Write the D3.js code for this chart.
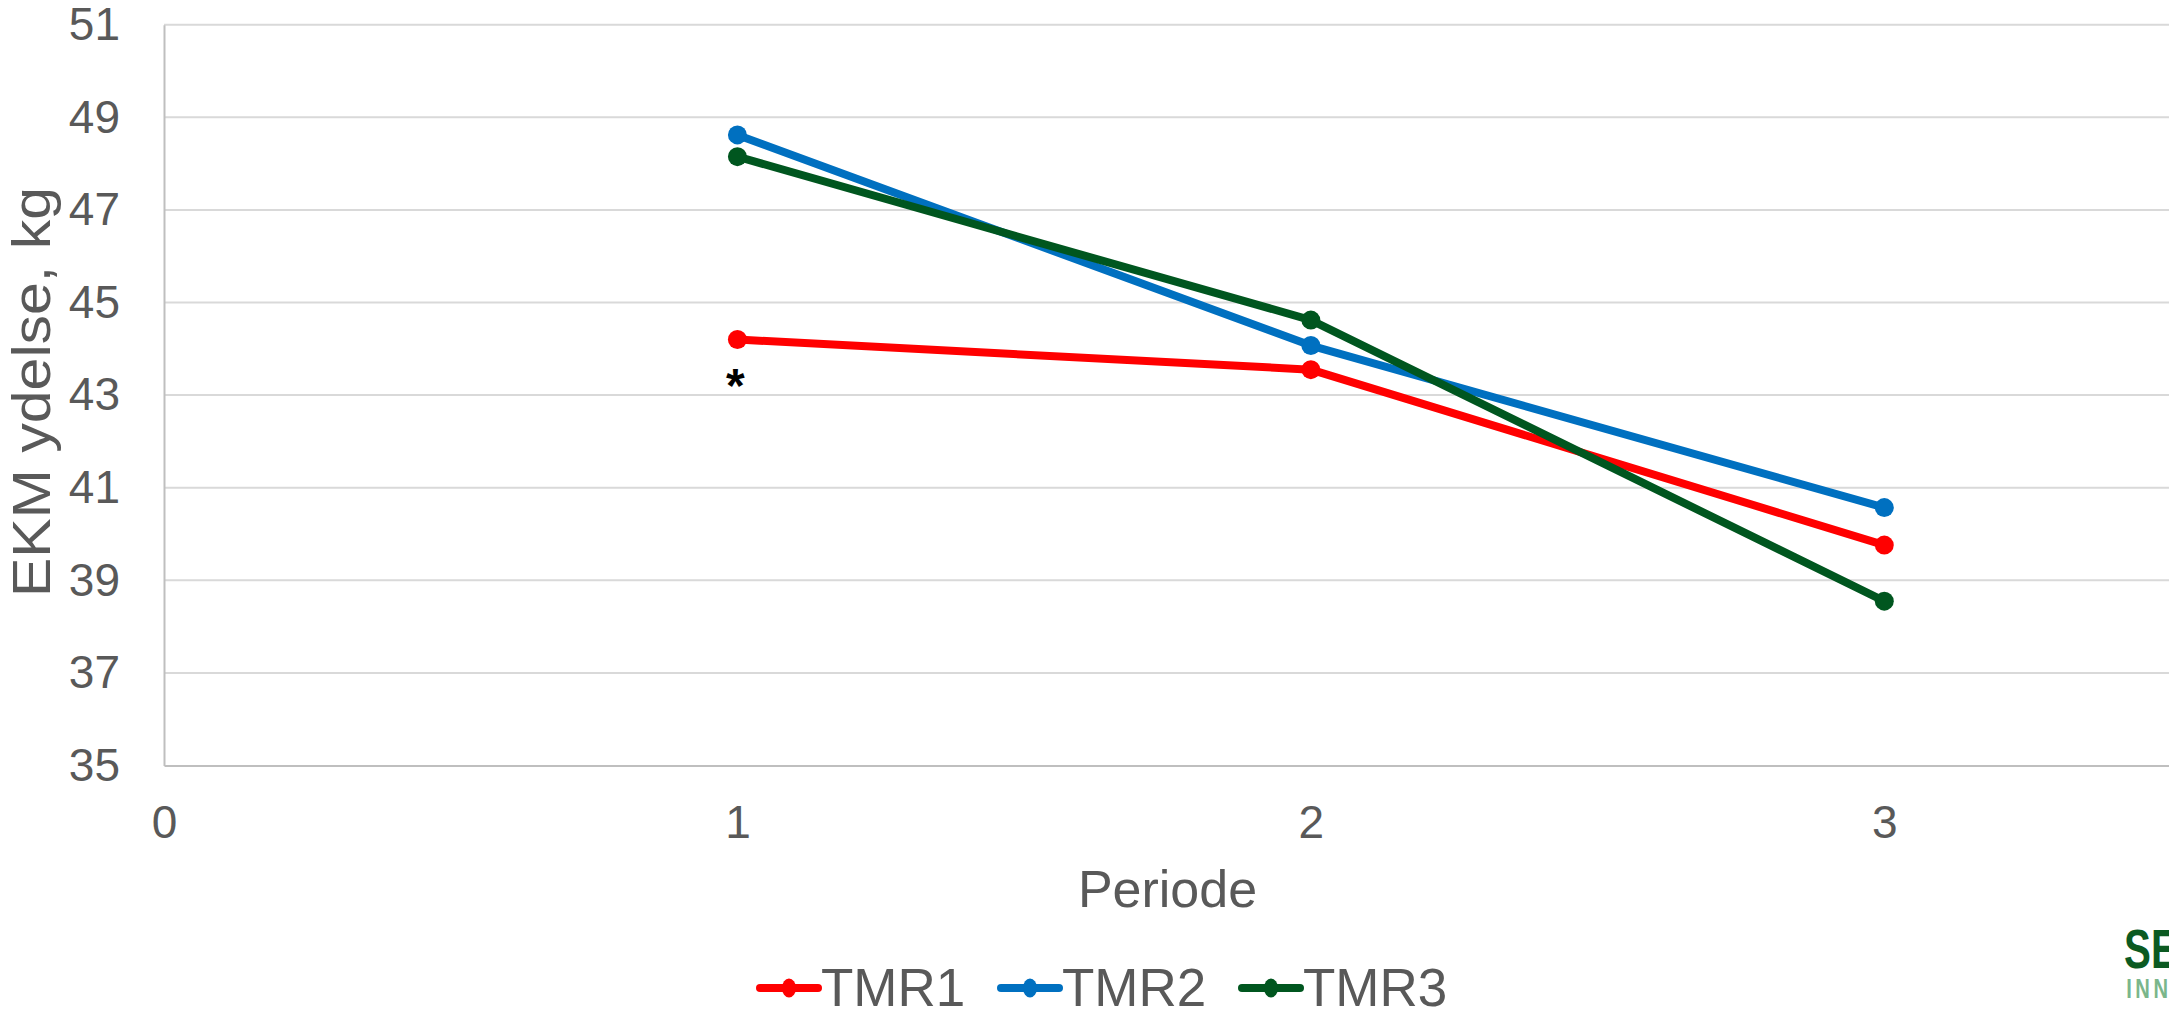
<!DOCTYPE html>
<html>
<head>
<meta charset="utf-8">
<script src="https://cdn.jsdelivr.net/npm/d3@7"></script>
<style>
  body { margin: 0; background: #fff; }
  svg { display: block; font-family: Arial, "Liberation Sans", sans-serif; }
</style>
</head>
<body>
<svg id="chart"></svg>
<script>
// EKM yield per period for the three TMR rations
const periods = [1, 2, 3];
const seriesNames = ["TMR1", "TMR2", "TMR3"];
const tmr1 = [44.2, 43.55, 39.76];
const tmr2 = [48.62, 44.07, 40.57];
const tmr3 = [48.15, 44.62, 38.55];
const yTicks = [35, 37, 39, 41, 43, 45, 47, 49, 51];
const xTicks = [0, 1, 2, 3];
const colours = ["#ff0000", "#0070c0", "#00561f"];
// significance mark under TMR1 in period 1
const notes = [{series: 0, period: 1, text: "*"}];

const W = 2169, H = 1013;
const plot = {left: 164, right: 2171, top: 24.7, bottom: 765.5};
const textGrey = "#595959";

const svg = d3.select("#chart")
    .attr("width", W)
    .attr("height", H);

const x = d3.scaleLinear()
    .domain([0, 3.5])
    .range([plot.left, plot.right]);

const y = d3.scaleLinear()
    .domain([35, 51])
    .range([plot.bottom, plot.top]);

const series = [tmr1, tmr2, tmr3].map((vals, i) => ({
    name: seriesNames[i],
    colour: colours[i],
    points: periods.map((p, j) => ({period: p, value: vals[j]}))
}));

// horizontal gridlines
svg.append("g")
  .selectAll("line")
  .data(yTicks.slice(1))
  .enter()
  .append("line")
    .attr("x1", plot.left)
    .attr("x2", plot.right)
    .attr("y1", d => y(d))
    .attr("y2", d => y(d))
    .attr("stroke", "#d9d9d9")
    .attr("stroke-width", 2);

// y axis
const yAxis = svg.append("g")
    .attr("transform", "translate(" + plot.left + ",0)")
    .call(d3.axisLeft(y).tickValues(yTicks).tickSize(0).tickPadding(44));

// x axis
const xAxis = svg.append("g")
    .attr("transform", "translate(0," + plot.bottom + ")")
    .call(d3.axisBottom(x).tickValues(xTicks).tickSize(0).tickPadding(40).tickFormat(d3.format("d")));

[yAxis, xAxis].forEach(a => {
    a.select(".domain").attr("stroke", "#bfbfbf").attr("stroke-width", 2);
    a.selectAll("text")
        .attr("fill", textGrey)
        .style("font-size", "46px")
        .style("font-family", "Arial, 'Liberation Sans', sans-serif");
});

// axis titles
svg.append("text")
    .attr("x", (plot.left + plot.right) / 2)
    .attr("y", 907)
    .attr("text-anchor", "middle")
    .attr("fill", textGrey)
    .style("font-size", "52px")
    .text("Periode");

svg.append("text")
    .attr("transform", "translate(50,392) rotate(-90)")
    .attr("text-anchor", "middle")
    .attr("fill", textGrey)
    .attr("textLength", 410)
    .attr("lengthAdjust", "spacingAndGlyphs")
    .style("font-size", "54px")
    .text("EKM ydelse, kg");

// lines
const line = d3.line()
    .x(d => x(d.period))
    .y(d => y(d.value));

svg.append("g")
  .selectAll("path")
  .data(series)
  .enter()
  .append("path")
    .attr("d", d => line(d.points))
    .attr("fill", "none")
    .attr("stroke", d => d.colour)
    .attr("stroke-width", 8)
    .attr("stroke-linejoin", "round")
    .attr("stroke-linecap", "round");

// markers
series.forEach(s => {
    svg.append("g")
      .selectAll("circle")
      .data(s.points)
      .enter()
      .append("circle")
        .attr("cx", d => x(d.period))
        .attr("cy", d => y(d.value))
        .attr("r", 9.5)
        .attr("fill", s.colour);
});

// notes
svg.append("g")
  .selectAll("text")
  .data(notes)
  .enter()
  .append("text")
    .attr("x", d => x(d.period) - 2)
    .attr("y", d => y(series[d.series].points.find(p => p.period === d.period).value) + 62)
    .attr("text-anchor", "middle")
    .attr("fill", "#000")
    .style("font-size", "48px")
    .style("font-weight", "bold")
    .text(d => d.text);

// legend
const legend = svg.append("g")
  .selectAll("g")
  .data(series)
  .enter()
  .append("g")
    .attr("transform", (d, i) => "translate(" + (760 + i * 241) + ",988)");

legend.append("line")
    .attr("x1", 0)
    .attr("x2", 58)
    .attr("stroke", d => d.colour)
    .attr("stroke-width", 8)
    .attr("stroke-linecap", "round");

legend.append("ellipse")
    .attr("cx", 29)
    .attr("rx", 7)
    .attr("ry", 9.5)
    .attr("fill", d => d.colour);

legend.append("text")
    .attr("x", 61)
    .attr("y", 18)
    .attr("fill", textGrey)
    .style("font-size", "53px")
    .text(d => d.name);

// logo, cut at the right edge
const logo = svg.append("g")
    .attr("transform", "translate(2124,0) scale(0.72,1)");

logo.append("text")
    .attr("x", 0)
    .attr("y", 968)
    .attr("fill", "#0b5a22")
    .style("font-size", "56px")
    .style("font-weight", "bold")
    .text("SEGES");

logo.append("text")
    .attr("x", 3)
    .attr("y", 998)
    .attr("fill", "#7ab68b")
    .style("font-size", "28px")
    .style("font-weight", "bold")
    .style("letter-spacing", "5px")
    .text("INNOVATION");
</script>
</body>
</html>
